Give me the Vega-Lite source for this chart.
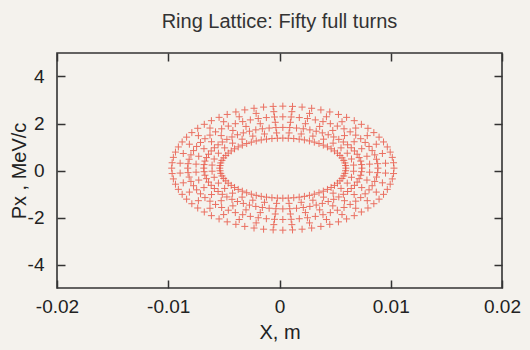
{
  "$schema": "https://vega.github.io/schema/vega-lite/v6.json",
  "width": 445,
  "height": 235,
  "autosize": {"type": "none"},
  "padding": {"left": 57, "top": 53, "right": 28, "bottom": 62},
  "background": "#f4f2ed",
  "title": {"text": "Ring Lattice: Fifty full turns", "font": "Liberation Sans", "fontSize": 20, "fontWeight": "normal", "color": "#333333", "offset": 20, "anchor": "middle"},
  "config": {
    "view": {"stroke": "#333333", "strokeWidth": 1.6},
    "axis": {"domain": false, "grid": false, "labelFlush": false, "tickSize": -8, "tickColor": "#333333", "tickWidth": 1.5, "labelFont": "Liberation Sans", "labelFontSize": 19, "labelColor": "#222222", "titleFont": "Liberation Sans", "titleFontSize": 20, "titleFontWeight": "normal", "titleColor": "#222222"}
  },
  "data": {"values": [
    {"x":0.00597,"p":0.1},{"x":0.00588,"p":0.322},{"x":0.00562,"p":0.537},{"x":0.00521,"p":0.739},{"x":0.00464,"p":0.922},{"x":0.00394,"p":1.079},{"x":0.00313,"p":1.207},{"x":0.00224,"p":1.301},{"x":0.00128,"p":1.359},{"x":0.0003,"p":1.378},
    {"x":-0.00068,"p":1.359},{"x":-0.00164,"p":1.301},{"x":-0.00253,"p":1.207},{"x":-0.00334,"p":1.079},{"x":-0.00404,"p":0.922},{"x":-0.00461,"p":0.739},{"x":-0.00502,"p":0.537},{"x":-0.00528,"p":0.322},{"x":-0.00537,"p":0.1},
    {"x":-0.00528,"p":-0.122},{"x":-0.00502,"p":-0.337},{"x":-0.00461,"p":-0.539},{"x":-0.00404,"p":-0.722},{"x":-0.00334,"p":-0.879},{"x":-0.00253,"p":-1.007},{"x":-0.00164,"p":-1.101},{"x":-0.00068,"p":-1.159},{"x":0.0003,"p":-1.178},
    {"x":0.00128,"p":-1.159},{"x":0.00224,"p":-1.101},{"x":0.00313,"p":-1.007},{"x":0.00394,"p":-0.879},{"x":0.00464,"p":-0.722},{"x":0.00521,"p":-0.539},{"x":0.00562,"p":-0.337},{"x":0.00588,"p":-0.122},
    {"x":0.00741,"p":0.1},{"x":0.0073,"p":0.401},{"x":0.00698,"p":0.693},{"x":0.00645,"p":0.967},{"x":0.00574,"p":1.214},{"x":0.00487,"p":1.427},{"x":0.00385,"p":1.601},{"x":0.00273,"p":1.729},{"x":0.00153,"p":1.807},{"x":0.0003,"p":1.833},
    {"x":-0.00093,"p":1.807},{"x":-0.00213,"p":1.729},{"x":-0.00325,"p":1.601},{"x":-0.00427,"p":1.427},{"x":-0.00514,"p":1.214},{"x":-0.00585,"p":0.967},{"x":-0.00638,"p":0.693},{"x":-0.0067,"p":0.401},{"x":-0.00681,"p":0.1},
    {"x":-0.0067,"p":-0.201},{"x":-0.00638,"p":-0.493},{"x":-0.00585,"p":-0.767},{"x":-0.00514,"p":-1.014},{"x":-0.00427,"p":-1.227},{"x":-0.00325,"p":-1.401},{"x":-0.00213,"p":-1.529},{"x":-0.00093,"p":-1.607},{"x":0.0003,"p":-1.633},
    {"x":0.00153,"p":-1.607},{"x":0.00273,"p":-1.529},{"x":0.00385,"p":-1.401},{"x":0.00487,"p":-1.227},{"x":0.00574,"p":-1.014},{"x":0.00645,"p":-0.767},{"x":0.00698,"p":-0.493},{"x":0.0073,"p":-0.201},
    {"x":0.00885,"p":0.1},{"x":0.00872,"p":0.479},{"x":0.00833,"p":0.847},{"x":0.0077,"p":1.193},{"x":0.00685,"p":1.505},{"x":0.0058,"p":1.774},{"x":0.00457,"p":1.992},{"x":0.00322,"p":2.153},{"x":0.00178,"p":2.252},{"x":0.0003,"p":2.285},
    {"x":-0.00118,"p":2.252},{"x":-0.00262,"p":2.153},{"x":-0.00397,"p":1.992},{"x":-0.0052,"p":1.774},{"x":-0.00625,"p":1.505},{"x":-0.0071,"p":1.193},{"x":-0.00773,"p":0.847},{"x":-0.00812,"p":0.479},{"x":-0.00825,"p":0.1},
    {"x":-0.00812,"p":-0.279},{"x":-0.00773,"p":-0.647},{"x":-0.0071,"p":-0.993},{"x":-0.00625,"p":-1.305},{"x":-0.0052,"p":-1.574},{"x":-0.00397,"p":-1.792},{"x":-0.00262,"p":-1.953},{"x":-0.00118,"p":-2.052},{"x":0.0003,"p":-2.085},
    {"x":0.00178,"p":-2.052},{"x":0.00322,"p":-1.953},{"x":0.00457,"p":-1.792},{"x":0.0058,"p":-1.574},{"x":0.00685,"p":-1.305},{"x":0.0077,"p":-0.993},{"x":0.00833,"p":-0.647},{"x":0.00872,"p":-0.279},
    {"x":0.01029,"p":0.1},{"x":0.01014,"p":0.558},{"x":0.00969,"p":1.002},{"x":0.00895,"p":1.419},{"x":0.00795,"p":1.796},{"x":0.00672,"p":2.121},{"x":0.0053,"p":2.385},{"x":0.00372,"p":2.579},{"x":0.00203,"p":2.698},{"x":0.0003,"p":2.738},
    {"x":-0.00143,"p":2.698},{"x":-0.00312,"p":2.579},{"x":-0.0047,"p":2.385},{"x":-0.00612,"p":2.121},{"x":-0.00735,"p":1.796},{"x":-0.00835,"p":1.419},{"x":-0.00909,"p":1.002},{"x":-0.00954,"p":0.558},{"x":-0.00969,"p":0.1},
    {"x":-0.00954,"p":-0.358},{"x":-0.00909,"p":-0.802},{"x":-0.00835,"p":-1.219},{"x":-0.00735,"p":-1.596},{"x":-0.00612,"p":-1.921},{"x":-0.0047,"p":-2.185},{"x":-0.00312,"p":-2.379},{"x":-0.00143,"p":-2.498},{"x":0.0003,"p":-2.538},
    {"x":0.00203,"p":-2.498},{"x":0.00372,"p":-2.379},{"x":0.0053,"p":-2.185},{"x":0.00672,"p":-1.921},{"x":0.00795,"p":-1.596},{"x":0.00895,"p":-1.219},{"x":0.00969,"p":-0.802},{"x":0.01014,"p":-0.358},
    {"x":0.00666,"p":0.231},{"x":0.00647,"p":0.489},{"x":0.00609,"p":0.736},{"x":0.00553,"p":0.963},{"x":0.00482,"p":1.164},{"x":0.00396,"p":1.333},{"x":0.003,"p":1.464},{"x":0.00195,"p":1.554},{"x":0.00086,"p":1.599},
    {"x":-0.00026,"p":1.599},{"x":-0.00135,"p":1.554},{"x":-0.0024,"p":1.464},{"x":-0.00336,"p":1.333},{"x":-0.00422,"p":1.164},{"x":-0.00493,"p":0.963},{"x":-0.00549,"p":0.736},{"x":-0.00587,"p":0.489},{"x":-0.00606,"p":0.231},
    {"x":-0.00606,"p":-0.031},{"x":-0.00587,"p":-0.289},{"x":-0.00549,"p":-0.536},{"x":-0.00493,"p":-0.763},{"x":-0.00422,"p":-0.964},{"x":-0.00336,"p":-1.133},{"x":-0.0024,"p":-1.264},{"x":-0.00135,"p":-1.354},{"x":-0.00026,"p":-1.399},
    {"x":0.00086,"p":-1.399},{"x":0.00195,"p":-1.354},{"x":0.003,"p":-1.264},{"x":0.00396,"p":-1.133},{"x":0.00482,"p":-0.964},{"x":0.00553,"p":-0.763},{"x":0.00609,"p":-0.536},{"x":0.00647,"p":-0.289},{"x":0.00666,"p":-0.031},
    {"x":0.0081,"p":0.271},{"x":0.00786,"p":0.607},{"x":0.00739,"p":0.927},{"x":0.00671,"p":1.223},{"x":0.00584,"p":1.485},{"x":0.00479,"p":1.704},{"x":0.00361,"p":1.875},{"x":0.00233,"p":1.991},{"x":0.00098,"p":2.051},
    {"x":-0.00038,"p":2.051},{"x":-0.00173,"p":1.991},{"x":-0.00301,"p":1.875},{"x":-0.00419,"p":1.704},{"x":-0.00524,"p":1.485},{"x":-0.00611,"p":1.223},{"x":-0.00679,"p":0.927},{"x":-0.00726,"p":0.607},{"x":-0.0075,"p":0.271},
    {"x":-0.0075,"p":-0.071},{"x":-0.00726,"p":-0.407},{"x":-0.00679,"p":-0.727},{"x":-0.00611,"p":-1.023},{"x":-0.00524,"p":-1.285},{"x":-0.00419,"p":-1.504},{"x":-0.00301,"p":-1.675},{"x":-0.00173,"p":-1.791},{"x":-0.00038,"p":-1.851},
    {"x":0.00098,"p":-1.851},{"x":0.00233,"p":-1.791},{"x":0.00361,"p":-1.675},{"x":0.00479,"p":-1.504},{"x":0.00584,"p":-1.285},{"x":0.00671,"p":-1.023},{"x":0.00739,"p":-0.727},{"x":0.00786,"p":-0.407},{"x":0.0081,"p":-0.071},
    {"x":0.00953,"p":0.31},{"x":0.00925,"p":0.724},{"x":0.0087,"p":1.119},{"x":0.00789,"p":1.484},{"x":0.00685,"p":1.806},{"x":0.00562,"p":2.076},{"x":0.00422,"p":2.286},{"x":0.0027,"p":2.43},{"x":0.00111,"p":2.503},
    {"x":-0.00051,"p":2.503},{"x":-0.0021,"p":2.43},{"x":-0.00362,"p":2.286},{"x":-0.00502,"p":2.076},{"x":-0.00625,"p":1.806},{"x":-0.00729,"p":1.484},{"x":-0.0081,"p":1.119},{"x":-0.00865,"p":0.724},{"x":-0.00893,"p":0.31},
    {"x":-0.00893,"p":-0.11},{"x":-0.00865,"p":-0.524},{"x":-0.0081,"p":-0.919},{"x":-0.00729,"p":-1.284},{"x":-0.00625,"p":-1.606},{"x":-0.00502,"p":-1.876},{"x":-0.00362,"p":-2.086},{"x":-0.0021,"p":-2.23},{"x":-0.00051,"p":-2.303},
    {"x":0.00111,"p":-2.303},{"x":0.0027,"p":-2.23},{"x":0.00422,"p":-2.086},{"x":0.00562,"p":-1.876},{"x":0.00685,"p":-1.606},{"x":0.00789,"p":-1.284},{"x":0.0087,"p":-0.919},{"x":0.00925,"p":-0.524},{"x":0.00953,"p":-0.11},
    {"x":0.00594,"p":0.211},{"x":0.00577,"p":0.431},{"x":0.00543,"p":0.64},{"x":0.00494,"p":0.833},{"x":0.00431,"p":1.004},{"x":0.00355,"p":1.147},{"x":0.00269,"p":1.258},{"x":0.00177,"p":1.334},{"x":0.00079,"p":1.373},
    {"x":-0.00019,"p":1.373},{"x":-0.00117,"p":1.334},{"x":-0.00209,"p":1.258},{"x":-0.00295,"p":1.147},{"x":-0.00371,"p":1.004},{"x":-0.00434,"p":0.833},{"x":-0.00483,"p":0.64},{"x":-0.00517,"p":0.431},{"x":-0.00534,"p":0.211},
    {"x":-0.00534,"p":-0.011},{"x":-0.00517,"p":-0.231},{"x":-0.00483,"p":-0.44},{"x":-0.00434,"p":-0.633},{"x":-0.00371,"p":-0.804},{"x":-0.00295,"p":-0.947},{"x":-0.00209,"p":-1.058},{"x":-0.00117,"p":-1.134},{"x":-0.00019,"p":-1.173},
    {"x":0.00079,"p":-1.173},{"x":0.00177,"p":-1.134},{"x":0.00269,"p":-1.058},{"x":0.00355,"p":-0.947},{"x":0.00431,"p":-0.804},{"x":0.00494,"p":-0.633},{"x":0.00543,"p":-0.44},{"x":0.00577,"p":-0.231},{"x":0.00594,"p":-0.011},
    {"x":0.00738,"p":0.251},{"x":0.00716,"p":0.549},{"x":0.00674,"p":0.832},{"x":0.00612,"p":1.094},{"x":0.00533,"p":1.325},{"x":0.00438,"p":1.52},{"x":0.0033,"p":1.671},{"x":0.00214,"p":1.774},{"x":0.00092,"p":1.826},
    {"x":-0.00032,"p":1.826},{"x":-0.00154,"p":1.774},{"x":-0.0027,"p":1.671},{"x":-0.00378,"p":1.52},{"x":-0.00473,"p":1.325},{"x":-0.00552,"p":1.094},{"x":-0.00614,"p":0.832},{"x":-0.00656,"p":0.549},{"x":-0.00678,"p":0.251},
    {"x":-0.00678,"p":-0.051},{"x":-0.00656,"p":-0.349},{"x":-0.00614,"p":-0.632},{"x":-0.00552,"p":-0.894},{"x":-0.00473,"p":-1.125},{"x":-0.00378,"p":-1.32},{"x":-0.0027,"p":-1.471},{"x":-0.00154,"p":-1.574},{"x":-0.00032,"p":-1.626},
    {"x":0.00092,"p":-1.626},{"x":0.00214,"p":-1.574},{"x":0.0033,"p":-1.471},{"x":0.00438,"p":-1.32},{"x":0.00533,"p":-1.125},{"x":0.00612,"p":-0.894},{"x":0.00674,"p":-0.632},{"x":0.00716,"p":-0.349},{"x":0.00738,"p":-0.051},
    {"x":0.00882,"p":0.291},{"x":0.00856,"p":0.665},{"x":0.00805,"p":1.023},{"x":0.0073,"p":1.353},{"x":0.00635,"p":1.645},{"x":0.0052,"p":1.89},{"x":0.00391,"p":2.08},{"x":0.00251,"p":2.211},{"x":0.00105,"p":2.277},
    {"x":-0.00045,"p":2.277},{"x":-0.00191,"p":2.211},{"x":-0.00331,"p":2.08},{"x":-0.0046,"p":1.89},{"x":-0.00575,"p":1.645},{"x":-0.0067,"p":1.353},{"x":-0.00745,"p":1.023},{"x":-0.00796,"p":0.665},{"x":-0.00822,"p":0.291},
    {"x":-0.00822,"p":-0.091},{"x":-0.00796,"p":-0.465},{"x":-0.00745,"p":-0.823},{"x":-0.0067,"p":-1.153},{"x":-0.00575,"p":-1.445},{"x":-0.0046,"p":-1.69},{"x":-0.00331,"p":-1.88},{"x":-0.00191,"p":-2.011},{"x":-0.00045,"p":-2.077},
    {"x":0.00105,"p":-2.077},{"x":0.00251,"p":-2.011},{"x":0.00391,"p":-1.88},{"x":0.0052,"p":-1.69},{"x":0.00635,"p":-1.445},{"x":0.0073,"p":-1.153},{"x":0.00805,"p":-0.823},{"x":0.00856,"p":-0.465},{"x":0.00882,"p":-0.091},
    {"x":0.01025,"p":0.33},{"x":0.00995,"p":0.783},{"x":0.00935,"p":1.215},{"x":0.00848,"p":1.613},{"x":0.00736,"p":1.965},{"x":0.00603,"p":2.261},{"x":0.00452,"p":2.491},{"x":0.00289,"p":2.648},{"x":0.00117,"p":2.728},
    {"x":-0.00057,"p":2.728},{"x":-0.00229,"p":2.648},{"x":-0.00392,"p":2.491},{"x":-0.00543,"p":2.261},{"x":-0.00676,"p":1.965},{"x":-0.00788,"p":1.613},{"x":-0.00875,"p":1.215},{"x":-0.00935,"p":0.783},{"x":-0.00965,"p":0.33},
    {"x":-0.00965,"p":-0.13},{"x":-0.00935,"p":-0.583},{"x":-0.00875,"p":-1.015},{"x":-0.00788,"p":-1.413},{"x":-0.00676,"p":-1.765},{"x":-0.00543,"p":-2.061},{"x":-0.00392,"p":-2.291},{"x":-0.00229,"p":-2.448},{"x":-0.00057,"p":-2.528},
    {"x":0.00117,"p":-2.528},{"x":0.00289,"p":-2.448},{"x":0.00452,"p":-2.291},{"x":0.00603,"p":-2.061},{"x":0.00736,"p":-1.765},{"x":0.00848,"p":-1.413},{"x":0.00935,"p":-1.015},{"x":0.00995,"p":-0.583},{"x":0.01025,"p":-0.13}
  ]},
  "layer": [
    {
      "mark": {"type": "point", "shape": "M-1,0H1M0,-1V1", "filled": false, "stroke": "#e8503f", "strokeWidth": 1, "opacity": 0.8, "size": 49},
      "encoding": {
        "x": {"field": "x", "type": "quantitative", "scale": {"domain": [-0.02, 0.02], "nice": false, "zero": false},
              "axis": {"orient": "bottom", "values": [-0.02, -0.01, 0, 0.01, 0.02], "title": "X, m", "labelPadding": 17, "titlePadding": 6, "labelExpr": "replace(format(datum.value, '~g'), '\u2212', '-')"}},
        "y": {"field": "p", "type": "quantitative", "scale": {"domain": [-5, 5], "nice": false},
              "axis": {"orient": "left", "values": [-4, -2, 0, 2, 4], "title": "Px , MeV/c", "labelPadding": 21, "titlePadding": -2, "labelExpr": "replace(format(datum.value, '~g'), '\u2212', '-')"}}
      }
    },
    {
      "mark": {"type": "point", "opacity": 0},
      "encoding": {
        "x": {"field": "x", "type": "quantitative", "axis": {"orient": "top", "values": [-0.02, -0.01, 0, 0.01, 0.02], "labels": false, "title": null}},
        "y": {"field": "p", "type": "quantitative", "axis": {"orient": "right", "values": [-4, -2, 0, 2, 4], "labels": false, "title": null}}
      }
    }
  ],
  "resolve": {"axis": {"x": "independent", "y": "independent"}}
}
